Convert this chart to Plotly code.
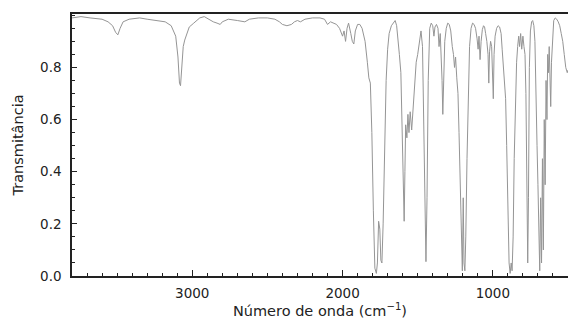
import plotly.graph_objects as go

# Wavenumber (cm^-1) and transmittance
wavenumber = [
    3800, 3740, 3680, 3600, 3560, 3530, 3510, 3495, 3480, 3460, 3420, 3350, 3300, 3250,
    3180, 3140, 3110, 3095, 3085, 3078, 3070, 3060, 3050, 3040, 3020, 2990, 2950, 2920,
    2890, 2860, 2835, 2814, 2800, 2760, 2700, 2650, 2620, 2560, 2500, 2450, 2420, 2400,
    2370, 2340, 2320, 2300, 2280, 2250, 2200, 2150, 2120, 2100, 2080, 2060, 2040, 2020,
    2000, 1990, 1980, 1970, 1960, 1945, 1935, 1925, 1915, 1900, 1885, 1870, 1850, 1835,
    1825, 1815, 1805, 1795, 1785, 1775, 1768, 1760, 1752, 1745, 1738, 1730, 1720, 1710,
    1700, 1690, 1675, 1660, 1650, 1640, 1630, 1622, 1612, 1604, 1596, 1590, 1585, 1580,
    1572, 1565, 1558, 1550, 1540, 1530, 1520, 1510, 1500, 1490, 1478, 1468, 1460, 1452,
    1445, 1438, 1430, 1420, 1410, 1400, 1392, 1385, 1375, 1365, 1358, 1350, 1345, 1338,
    1333, 1328, 1320, 1310, 1300, 1290, 1280, 1270, 1262, 1255, 1248, 1240, 1232, 1225,
    1218, 1210, 1203, 1197, 1192, 1186, 1180, 1172, 1165, 1155, 1145, 1135, 1125, 1115,
    1105, 1098, 1092, 1085, 1078, 1070, 1062, 1055, 1048, 1040, 1032, 1027, 1022, 1015,
    1008, 1002, 997, 992, 985, 975, 965, 955, 945, 938, 930, 922, 915, 908,
    900, 892, 885, 878, 872, 865, 858, 850, 842, 835, 828, 822, 815, 808,
    800, 793, 786, 780, 773, 768, 763, 757, 750, 742, 735, 727, 720, 713,
    706, 700, 694, 688, 682, 676, 670, 664, 658, 652, 646, 640, 635, 630,
    625, 620, 615, 610, 603, 595, 585, 575, 565, 555, 545, 535, 525, 515,
    505, 500,
]
transmittance = [
    0.99, 0.995, 0.99, 0.985, 0.975, 0.96, 0.935, 0.925, 0.95, 0.975, 0.985, 0.99, 0.985, 0.98,
    0.975, 0.96, 0.92, 0.84, 0.74, 0.73, 0.80, 0.88, 0.905, 0.92, 0.955, 0.97, 0.99, 0.995,
    0.985, 0.975, 0.97, 0.965, 0.975, 0.985, 0.98, 0.975, 0.985, 0.99, 0.99, 0.985, 0.975, 0.965,
    0.96, 0.965, 0.975, 0.98, 0.975, 0.985, 0.99, 0.99, 0.985, 0.965, 0.975, 0.97, 0.965, 0.95,
    0.92, 0.94, 0.90, 0.95, 0.97, 0.93, 0.90, 0.89, 0.94, 0.965, 0.965, 0.95, 0.90, 0.82,
    0.76, 0.74, 0.55, 0.25, 0.03, 0.01, 0.05, 0.21, 0.18, 0.06, 0.05, 0.20, 0.50, 0.75,
    0.87, 0.93, 0.96, 0.975, 0.98, 0.96, 0.88, 0.85, 0.78, 0.60, 0.35, 0.21, 0.40, 0.58,
    0.53, 0.62, 0.55, 0.63, 0.56, 0.64, 0.75, 0.82, 0.85, 0.90, 0.94, 0.88, 0.60, 0.30,
    0.055, 0.30, 0.75, 0.95, 0.97, 0.96, 0.92, 0.955, 0.965, 0.95, 0.88, 0.93, 0.87, 0.75,
    0.62, 0.75, 0.90, 0.95, 0.97, 0.965, 0.94, 0.88, 0.85, 0.80, 0.84, 0.76, 0.70, 0.55,
    0.35, 0.10, 0.02, 0.30, 0.05, 0.02, 0.15, 0.45, 0.70, 0.88, 0.95, 0.97, 0.965, 0.95,
    0.91, 0.87, 0.92, 0.83, 0.90, 0.945, 0.96, 0.955, 0.93, 0.90, 0.85, 0.74, 0.86, 0.90,
    0.88, 0.78, 0.68, 0.85, 0.92, 0.95, 0.96, 0.955, 0.93, 0.87, 0.80, 0.73, 0.68, 0.50,
    0.25, 0.05, 0.01, 0.05, 0.02, 0.15, 0.45, 0.70, 0.82, 0.88, 0.92, 0.88, 0.93, 0.87,
    0.92, 0.88, 0.85, 0.70, 0.30, 0.05, 0.30, 0.80, 0.94, 0.975, 0.98, 0.96, 0.90, 0.75,
    0.50, 0.35, 0.10, 0.02, 0.30, 0.05, 0.45, 0.10, 0.60, 0.35, 0.75, 0.60, 0.85, 0.78,
    0.88, 0.80, 0.65, 0.82, 0.93, 0.98, 0.99, 0.985, 0.975, 0.96, 0.93, 0.90, 0.85, 0.80,
    0.78, 0.79,
]

x_tickvals = [3000, 2000, 1000]
y_tickvals = [0.0, 0.2, 0.4, 0.6, 0.8]

fig = go.Figure()
fig.add_trace(go.Scatter(
    x=wavenumber, y=transmittance, mode="lines",
    line=dict(color="#959595", width=1), showlegend=False,
))

axis_font = dict(family="DejaVu Sans", size=13.5, color="#222")
fig.update_layout(
    width=568, height=321,
    margin=dict(l=72, r=0, t=14, b=45, autoexpand=False),
    paper_bgcolor="white", plot_bgcolor="white",
    font=dict(family="DejaVu Sans", color="#222"),
)
fig.update_xaxes(
    range=[3800, 500], tickvals=x_tickvals, ticks="inside", ticklen=6, tickwidth=1,
    tickcolor="#222", showline=True, linecolor="#222", linewidth=1.5, mirror=True,
    showgrid=False, zeroline=False, tickfont=axis_font, ticklabelstandoff=4,
    automargin=False,
    minor=dict(dtick=100, tick0=0, ticks="inside", ticklen=3, tickcolor="#222"),
    title=dict(text="Número de onda (cm<sup>−1</sup>)", font=dict(size=14.5, color="#222"), standoff=6),
)
fig.update_yaxes(
    range=[0, 1.005], tickvals=y_tickvals, tickformat=".1f", ticks="inside", ticklen=5,
    tickwidth=1, tickcolor="#222", showline=True, linecolor="#222", linewidth=1.5,
    showgrid=False, zeroline=False, tickfont=axis_font, ticklabelstandoff=6,
    automargin=False,
    minor=dict(dtick=0.05, tick0=0, ticks="inside", ticklen=3, tickcolor="#222"),
    title=dict(text="Transmitância", font=dict(size=14.5, color="#222"), standoff=13),
)

fig.write_html(
    "out.html",
    config={"displayModeBar": False},
    post_script="document.body.style.margin='0px';",
)
